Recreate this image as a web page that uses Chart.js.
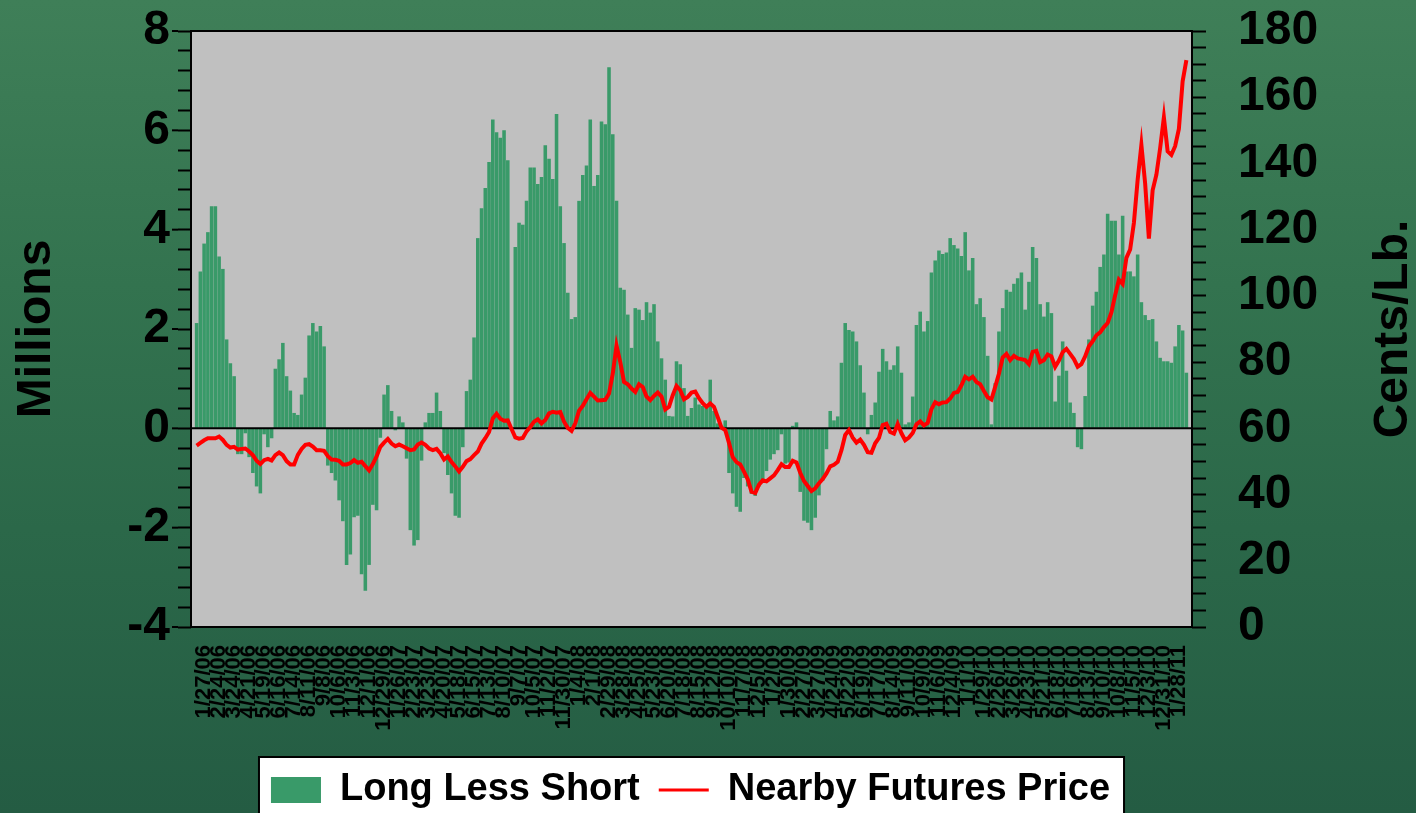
<!DOCTYPE html>
<html>
<head>
<meta charset="utf-8">
<title>Long Less Short</title>
<script src="https://cdn.jsdelivr.net/npm/chart.js@4.4.1/dist/chart.umd.min.js"></script>
<style>
	html, body { margin: 0; padding: 0; }
	body {
		width: 1416px; height: 813px; overflow: hidden;
		background: linear-gradient(180deg, #3f7f58 0%, #33734f 35%, #2b6849 65%, #245c43 100%);
	}
	#chart-area { display: block; }
</style>
</head>
<body>
<canvas id="chart-area" width="1416" height="813"></canvas>
<script>
// weekly categories, one report week is missing at the end of 2007
var firstWeek = [2006, 0, 6];
var weekCount = 267;
var skippedWeeks = ['2007-12-28'];
var labelStart = 3;
var labelEvery = 4;

var seriesNames = ['Long Less Short', 'Nearby Futures Price'];
var leftTicks = [-4, -2, 0, 2, 4, 6, 8];
var rightTicks = [0, 20, 40, 60, 80, 100, 120, 140, 160, 180];

// millions of contracts, one value per week
var netLong = [2.12,3.16,3.72,3.95,4.47,4.47,3.46,3.21,1.79,1.31,
	1.05,-0.52,-0.52,-0.1,-0.58,-0.9,-1.17,-1.31,-0.12,-0.38,
	-0.2,1.2,1.39,1.72,1.05,0.76,0.31,0.27,0.68,1.02,
	1.87,2.12,1.95,2.06,1.65,-0.75,-0.9,-1.05,-1.45,-1.87,
	-2.75,-2.54,-1.79,-1.76,-2.94,-3.27,-2.75,-1.54,-1.65,-0.19,
	0.68,0.87,0.35,-0.04,0.24,0.12,-0.61,-2.05,-2.36,-2.25,
	-0.65,0.12,0.31,0.31,0.72,0.35,-0.5,-0.94,-1.31,-1.76,
	-1.8,-0.38,0.75,0.98,1.83,3.83,4.43,4.84,5.36,6.22,
	5.96,5.85,6.0,5.4,0,3.65,4.14,4.1,4.58,5.25,
	5.25,4.92,5.06,5.7,5.43,5.02,6.33,4.47,3.73,2.73,
	2.2,2.24,4.58,5.1,5.29,6.22,4.88,5.1,6.18,6.12,
	7.27,5.92,4.58,2.83,2.79,2.29,1.62,2.42,2.39,2.18,
	2.54,2.33,2.5,1.75,1.41,0.98,0.25,0.24,1.35,1.29,
	0.81,0.25,0.41,0.62,0.48,0.45,0.41,0.98,0.35,0.1,
	0.05,0.16,-0.9,-1.31,-1.58,-1.68,-1.0,-1.17,-1.32,-1.36,
	-1.17,-1.05,-0.86,-0.63,-0.52,-0.44,-0.12,-0.71,-0.69,0.05,
	0.12,-1.28,-1.86,-1.9,-2.05,-1.8,-1.35,-1.05,-0.42,0.35,
	0.16,0.24,1.32,2.12,1.98,1.95,1.75,1.27,0.72,-0.12,
	0.27,0.52,1.14,1.6,1.35,1.18,1.27,1.65,1.12,0.08,
	0.12,0.64,2.08,2.35,1.95,2.16,3.14,3.38,3.58,3.51,
	3.54,3.83,3.69,3.62,3.47,3.95,3.18,3.43,2.5,2.62,
	2.24,1.46,0.08,0.91,1.95,2.42,2.79,2.75,2.91,3.02,
	3.14,2.39,2.95,3.65,3.43,2.5,2.25,2.54,2.32,0.54,
	1.06,1.75,1.16,0.52,0.31,-0.38,-0.42,0.65,1.79,2.47,
	2.75,3.25,3.5,4.32,4.18,4.18,3.5,4.28,3.16,3.16,
	3.06,3.5,2.54,2.28,2.18,2.2,1.75,1.42,1.35,1.35,
	1.32,1.65,2.08,1.97,1.12];

// cents per pound
var nearbyPrice = [54.8,55.6,56.4,57,57,57,57.5,56.5,55,54.2,
	54.4,53.6,53.8,53.9,53,51.9,50.2,49.2,50.4,50.8,
	50.3,51.9,52.7,51.9,50.1,49.1,49.1,52,53.8,55,
	55.2,54.5,53.4,53.4,53.2,51.6,50.6,50.5,50.2,49.1,
	49.1,49.5,50.4,49.6,49.9,48.6,47.3,49.2,51.5,54.4,
	55.7,56.8,55.4,54.6,55.1,54.6,54,53.4,53.6,55.1,
	55.7,55,53.9,53.4,53.8,52.5,50.6,51.5,49.8,48.5,
	47,48.4,50.1,50.7,51.9,53,55.4,57,58.9,63,
	64.4,62.9,62.3,62.4,59.8,57.3,56.9,57.1,59.1,60.4,
	62,62.7,61.5,62.5,64.5,65,64.7,64.9,62,60.1,
	59.2,61.5,65.3,66.8,68.8,70.7,69.6,68.4,68.5,68.6,
	70.5,76.5,85,80,74,73.3,72,71,73.3,72.5,
	69.6,68.5,69.8,70.8,69.6,65.7,66.5,70,72.8,71.5,
	68.8,69.5,70.8,71.1,69.1,67.6,66.5,67.5,66.5,63.4,
	60.2,59.5,55.6,51.3,49.8,49.1,46.9,44.6,40.9,40.5,
	43,44.3,44,44.9,45.8,47.4,49.2,48.3,48.3,50.2,
	49.7,46.6,44.1,42.6,41.1,41.9,43.4,44.7,46.4,48.5,
	49,49.9,53.4,58,59.5,57.2,55.7,56.6,55,52.8,
	52.6,55.5,57.1,61,61.4,58.9,58.4,61.3,58.5,56.4,
	57.2,58.6,61.2,62.1,60.9,61.6,65.8,67.9,67.3,67.8,
	67.9,69,70.7,71,73,75.6,74.8,75.6,74,73.3,
	71.3,69.4,68.7,72.5,76.5,81.4,82.5,80.6,81.9,81.1,
	80.9,80.6,79.4,83.1,83.4,80,80.6,82.3,81.7,78.6,
	80.5,83,84,82.5,80.9,78.6,79.4,81.7,84.8,86.3,
	88.1,89,90.6,91.8,95,100.2,104.9,103.6,111.5,114,
	122,135,145.6,134,117.3,131.9,136.6,144.6,153.9,143.7,
	142.6,145.2,150.4,164.8,171.2];

var barColor = '#399a69';
var lineColor = '#ff0000';
var plotColor = '#c0c0c0';
var boldFont = '"Liberation Sans", Arial, sans-serif';

var plotTop = 31, plotBottom = 627, plotLeft = 191, plotRight = 1192;
var legendMidY = 790, legendFontSize = 38;

var categories = [];
(function(){
	var d = new Date(Date.UTC(firstWeek[0], firstWeek[1], firstWeek[2]));
	while (categories.length < weekCount) {
		var iso = d.toISOString().slice(0, 10);
		if (skippedWeeks.indexOf(iso) < 0) {
			categories.push((d.getUTCMonth() + 1) + '/' + d.getUTCDate() + '/' + String(d.getUTCFullYear()).slice(2));
		}
		d.setUTCDate(d.getUTCDate() + 7);
	}
})();

// first and last week are empty slots on the axis
var barData = [null].concat(netLong, [null]);
var lineData = [null].concat(nearbyPrice, [null]);

function isTick(list, v){
	for (var i = 0; i < list.length; i++) {
		if (Math.abs(list[i] - v) < 1e-6) return true;
	}
	return false;
}

// tick labels may hang over the plot edges, the layout should not move for them
function noOverhang(s){
	s.paddingTop = 0;
	s.paddingBottom = 0;
	s.paddingLeft = 0;
	s.paddingRight = 0;
}

var framePlugin = {
	id: 'frame',
	afterLayout: function(chart){
		var lg = chart.legend;
		if (!lg) return;
		var p = lg.options.labels.padding;
		var dy = legendMidY - (lg.top + p + legendFontSize / 2);
		lg.top += dy;
		lg.bottom += dy;
	},
	beforeDraw: function(chart){
		var ctx = chart.ctx, a = chart.chartArea;
		ctx.save();
		ctx.fillStyle = plotColor;
		ctx.fillRect(a.left, a.top, a.right - a.left, a.bottom - a.top);
		var lg = chart.legend;
		if (lg && lg.lineWidths) {
			var p = lg.options.labels.padding;
			var lw = lg.lineWidths[0];
			var x0 = (lg.left + p + lg.right - lw) / 2;
			ctx.fillStyle = '#ffffff';
			ctx.strokeStyle = '#000000';
			ctx.lineWidth = 2;
			ctx.fillRect(x0 - 12, legendMidY - 33, lw - p + 26, chart.height);
			ctx.strokeRect(x0 - 12, legendMidY - 33, lw - p + 26, chart.height);
		}
		ctx.restore();
	},
	afterDatasetDraw: function(chart, args){
		if (args.index !== 0) return;
		var ctx = chart.ctx, a = chart.chartArea;
		var y0 = chart.scales.y.getPixelForValue(0);
		ctx.save();
		ctx.strokeStyle = '#000';
		ctx.lineWidth = 2;
		ctx.beginPath();
		ctx.moveTo(a.left, y0);
		ctx.lineTo(a.right, y0);
		ctx.stroke();
		ctx.restore();
	},
	afterDraw: function(chart){
		var ctx = chart.ctx, a = chart.chartArea;
		var ys = chart.scales.y;
		ctx.save();
		ctx.strokeStyle = '#000';
		ctx.lineWidth = 2;
		ctx.strokeRect(a.left, a.top, a.right - a.left, a.bottom - a.top);
		// longer marks on the labelled millions
		for (var i = 0; i < leftTicks.length; i++) {
			var y = ys.getPixelForValue(leftTicks[i]);
			ctx.beginPath();
			ctx.moveTo(a.left - 13, y);
			ctx.lineTo(a.left - 19, y);
			ctx.stroke();
		}
		ctx.fillStyle = '#000';
		ctx.font = 'bold 48px ' + boldFont;
		ctx.textAlign = 'center';
		ctx.textBaseline = 'middle';
		ctx.translate(1394, (a.top + a.bottom) / 2);
		ctx.rotate(-Math.PI / 2);
		ctx.fillText('Cents/Lb.', 0, 0);
		ctx.restore();
	}
};

Chart.defaults.font.family = boldFont;
Chart.defaults.color = '#000';

var config = {
	type: 'bar',
	data: {
		labels: categories,
		datasets: [{
			label: seriesNames[0],
			data: barData,
			backgroundColor: barColor,
			borderWidth: 0,
			barPercentage: 0.95,
			categoryPercentage: 1,
			yAxisID: 'y',
			order: 2
		}, {
			type: 'line',
			label: seriesNames[1],
			data: lineData,
			borderColor: lineColor,
			backgroundColor: lineColor,
			borderWidth: 4,
			pointRadius: 0,
			tension: 0,
			yAxisID: 'y2',
			order: 1
		}]
	},
	options: {
		responsive: false,
		animation: false,
		devicePixelRatio: 1,
		layout: { padding: { top: plotTop, right: 35, bottom: 0, left: 0 } },
		plugins: {
			tooltip: { enabled: false },
			legend: {
				position: 'bottom',
				labels: {
					usePointStyle: true,
					pointStyleWidth: 50,
					boxHeight: 26,
					padding: 19,
					color: '#000',
					font: { size: legendFontSize, weight: 'bold' },
					generateLabels: function(){
						return [
							{ text: seriesNames[0], fillStyle: barColor, strokeStyle: barColor, lineWidth: 0, pointStyle: 'rect', datasetIndex: 0, hidden: false },
							{ text: seriesNames[1], fillStyle: lineColor, strokeStyle: lineColor, lineWidth: 3, pointStyle: 'line', datasetIndex: 1, hidden: false }
						];
					}
				}
			}
		},
		scales: {
			x: {
				offset: true,
				grid: { display: false },
				border: { display: false },
				ticks: {
					autoSkip: false,
					minRotation: 90,
					maxRotation: 90,
					padding: 10,
					color: '#000',
					font: { size: 22, weight: 'bold' },
					callback: function(v, i){
						return (i >= labelStart && (i - labelStart) % labelEvery === 0) ? categories[i] : '';
					}
				},
				afterFit: function(s){
					var lh = s.chart.legend ? s.chart.legend.height : 0;
					s.height = s.chart.height - plotBottom - lh;
					noOverhang(s);
				}
			},
			y: {
				position: 'left',
				min: leftTicks[0],
				max: leftTicks[leftTicks.length - 1],
				border: { display: false },
				grid: { drawOnChartArea: false, drawTicks: true, tickLength: 13, tickColor: '#000', tickWidth: 2 },
				ticks: {
					stepSize: 0.4,
					autoSkip: false,
					padding: 8,
					color: '#000',
					font: { size: 48, weight: 'bold' },
					callback: function(v){
						return isTick(leftTicks, v) ? String(Math.round(v)) : '';
					}
				},
				title: {
					display: true,
					text: 'Millions',
					color: '#000',
					font: { size: 48, weight: 'bold' },
					padding: { top: 8, bottom: 0 }
				},
				afterFit: function(s){ s.width = plotLeft; noOverhang(s); }
			},
			y2: {
				position: 'right',
				min: rightTicks[0],
				max: rightTicks[rightTicks.length - 1],
				border: { display: false },
				grid: { drawOnChartArea: false, drawTicks: true, tickLength: 14, tickColor: '#000', tickWidth: 2 },
				ticks: {
					stepSize: 5,
					autoSkip: false,
					padding: 32,
					color: '#000',
					font: { size: 48, weight: 'bold' },
					callback: function(v){
						return isTick(rightTicks, v) ? String(Math.round(v)) : '';
					}
				},
				afterFit: function(s){ s.width = s.chart.width - 35 - plotRight; noOverhang(s); }
			}
		}
	},
	plugins: [framePlugin]
};

window['loadChart'] = function(){
	var ctx = document.getElementById('chart-area').getContext('2d');
	window.myChart = new Chart(ctx, config);
};
loadChart();
</script>
</body>
</html>
